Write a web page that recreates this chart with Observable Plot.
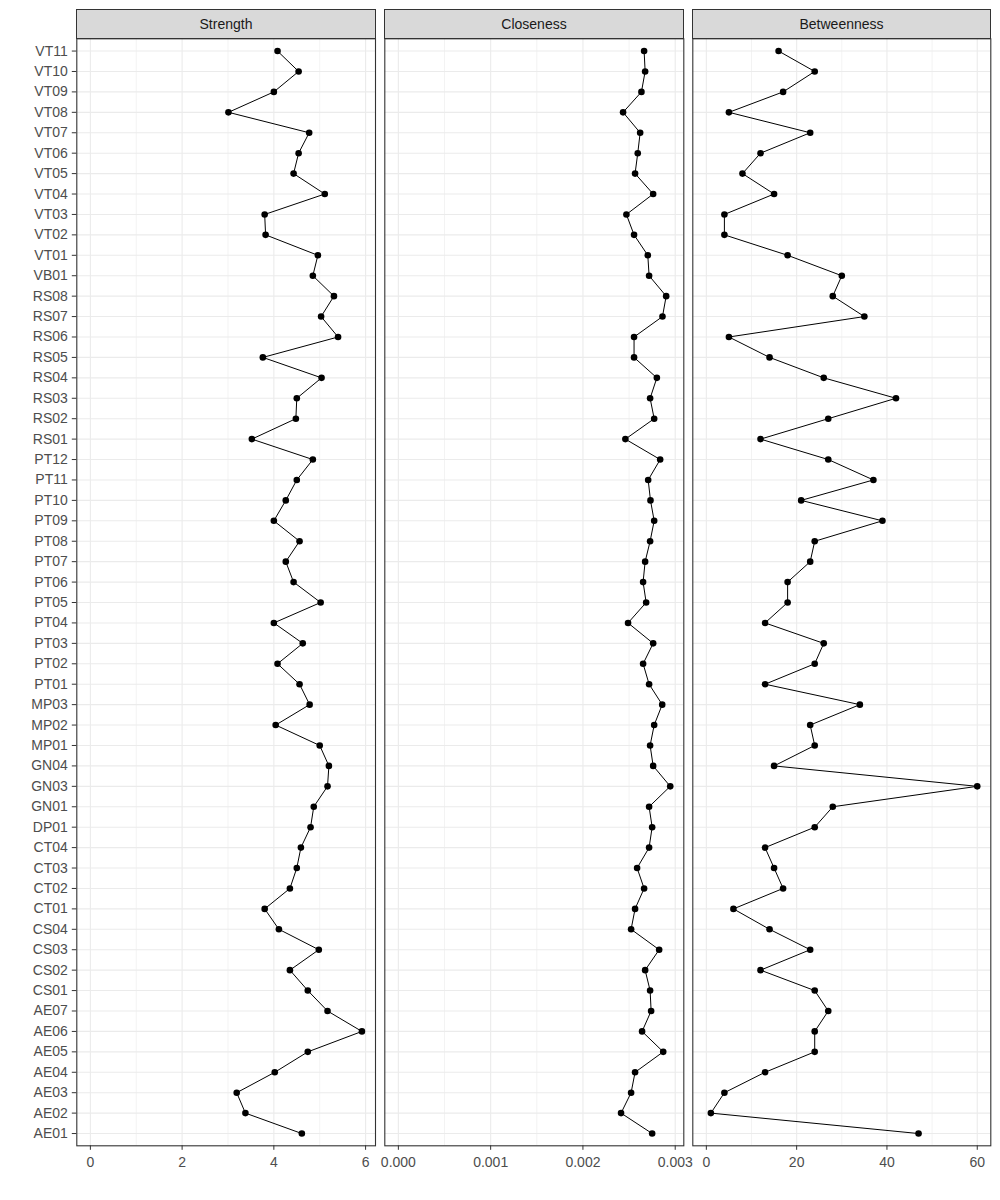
<!DOCTYPE html>
<html><head><meta charset="utf-8">
<script src="https://cdn.jsdelivr.net/npm/d3@7"></script>
<script src="https://cdn.jsdelivr.net/npm/@observablehq/plot@0.6"></script>
<style>
body{margin:0;background:#fff;}
#chart{position:relative;width:1000px;height:1200px;font-family:"Liberation Sans",Arial,sans-serif;}
.strip{position:absolute;box-sizing:border-box;background:#d9d9d9;border:1px solid #333;color:#1a1a1a;font-size:14px;display:flex;align-items:center;justify-content:center;}
.panel{position:absolute;top:30px;}
</style></head><body><div id="chart"></div>
<script>
const nodes = ["VT11","VT10","VT09","VT08","VT07","VT06","VT05","VT04","VT03","VT02","VT01","VB01",
  "RS08","RS07","RS06","RS05","RS04","RS03","RS02","RS01",
  "PT12","PT11","PT10","PT09","PT08","PT07","PT06","PT05","PT04","PT03","PT02","PT01",
  "MP03","MP02","MP01","GN04","GN03","GN01","DP01","CT04","CT03","CT02","CT01",
  "CS04","CS03","CS02","CS01","AE07","AE06","AE05","AE04","AE03","AE02","AE01"];
const strength = [4.08,4.54,4.00,3.01,4.77,4.54,4.43,5.11,3.80,3.82,4.96,4.85,
  5.31,5.03,5.40,3.76,5.04,4.50,4.48,3.52,
  4.85,4.50,4.26,4.00,4.56,4.26,4.43,5.02,4.00,4.63,4.08,4.56,
  4.78,4.04,5.00,5.20,5.17,4.87,4.80,4.59,4.50,4.35,3.80,
  4.11,4.98,4.35,4.74,5.17,5.92,4.74,4.02,3.19,3.38,4.61];
const closeness = [0.002663,0.002674,0.002634,0.002435,0.002620,0.002594,0.002565,0.002761,0.002471,0.002554,0.002703,0.002717,
  0.002902,0.002862,0.002554,0.002554,0.002801,0.002728,0.002772,0.002460,
  0.002837,0.002707,0.002732,0.002772,0.002728,0.002674,0.002652,0.002685,0.002489,0.002761,0.002652,0.002717,
  0.002859,0.002772,0.002728,0.002761,0.002946,0.002717,0.002750,0.002717,0.002587,0.002663,0.002565,
  0.002522,0.002826,0.002674,0.002728,0.002739,0.002641,0.002870,0.002565,0.002522,0.002413,0.002750];
const betweenness = [16,24,17,5,23,12,8,15,4,4,18,30,
  28,35,5,14,26,42,27,12,
  27,37,21,39,24,23,18,18,13,26,24,13,
  34,23,24,15,60,28,24,13,15,17,6,
  14,23,12,24,27,24,24,13,4,1,47];
const measures = ["Strength","Closeness","Betweenness"];
const strengthTicks = [0,2,4,6], strengthMinor = [1,3,5];
const closenessTicks = [0,0.001,0.002,0.003], closenessMinor = [0.0005,0.0015,0.0025];
const betweennessTicks = [0,20,40,60], betweennessMinor = [10,30,50];

const chart = document.getElementById("chart");
const font = '"Liberation Sans", Arial, sans-serif';

function panel({title, values, domain, ticks, minor, format, left, width, marginLeft, marginRight, showY, stripLeft, stripWidth}) {
  const data = nodes.map((n, i) => ({node: n, value: values[i]}));
  const marks = [
    Plot.gridX(minor, {stroke: "#ebebeb", strokeOpacity: 1, strokeWidth: 0.6}),
    Plot.gridX(ticks, {stroke: "#ebebeb", strokeOpacity: 1, strokeWidth: 1.1}),
    Plot.gridY(nodes, {stroke: "#ebebeb", strokeOpacity: 1, strokeWidth: 1.1}),
    Plot.line(data, {x: "value", y: "node", stroke: "black", strokeWidth: 1}),
    Plot.dot(data, {x: "value", y: "node", r: 3.3, fill: "black", stroke: null}),
    Plot.frame({stroke: "#333", strokeWidth: 1.1}),
    Plot.axisX(ticks, {tickSize: 4.5, tickPadding: 7, stroke: "#333", fill: "#4d4d4d", tickFormat: format, label: null})
  ];
  if (showY) marks.push(Plot.axisY({tickSize: 4.5, tickPadding: 4.5, stroke: "#333", fill: "#4d4d4d", label: null}));
  const p = Plot.plot({
    width, height: 1170, marginTop: 8.3, marginBottom: 54.7, marginLeft, marginRight,
    style: {fontFamily: font, fontSize: "14px", background: "transparent", overflow: "visible"},
    x: {domain, label: null},
    y: {type: "point", domain: nodes, padding: 0.6, round: false, label: null, axis: showY ? undefined : null},
    marks
  });
  p.classList.add("panel");
  p.style.left = left + "px";
  chart.appendChild(p);
  const s = document.createElement("div");
  s.className = "strip";
  s.style.left = stripLeft + "px";
  s.style.top = "9px";
  s.style.width = stripWidth + "px";
  s.style.height = "30px";
  s.textContent = title;
  chart.appendChild(s);
}

panel({title: measures[0], values: strength, domain: [-0.296, 6.216], ticks: strengthTicks, minor: strengthMinor,
  format: d3.format("d"), left: 0, width: 376, marginLeft: 76.3, marginRight: 1, showY: true, stripLeft: 76, stripWidth: 300});
panel({title: measures[1], values: closeness, domain: [-0.000147, 0.003093], ticks: closenessTicks, minor: closenessMinor,
  format: d3.format(".3f"), left: 380, width: 310, marginLeft: 4.3, marginRight: 6.7, showY: false, stripLeft: 384, stripWidth: 300});
panel({title: measures[2], values: betweenness, domain: [-3, 63], ticks: betweennessTicks, minor: betweennessMinor,
  format: d3.format("d"), left: 688, width: 310, marginLeft: 4.3, marginRight: 7.7, showY: false, stripLeft: 692, stripWidth: 299});
</script></body></html>
